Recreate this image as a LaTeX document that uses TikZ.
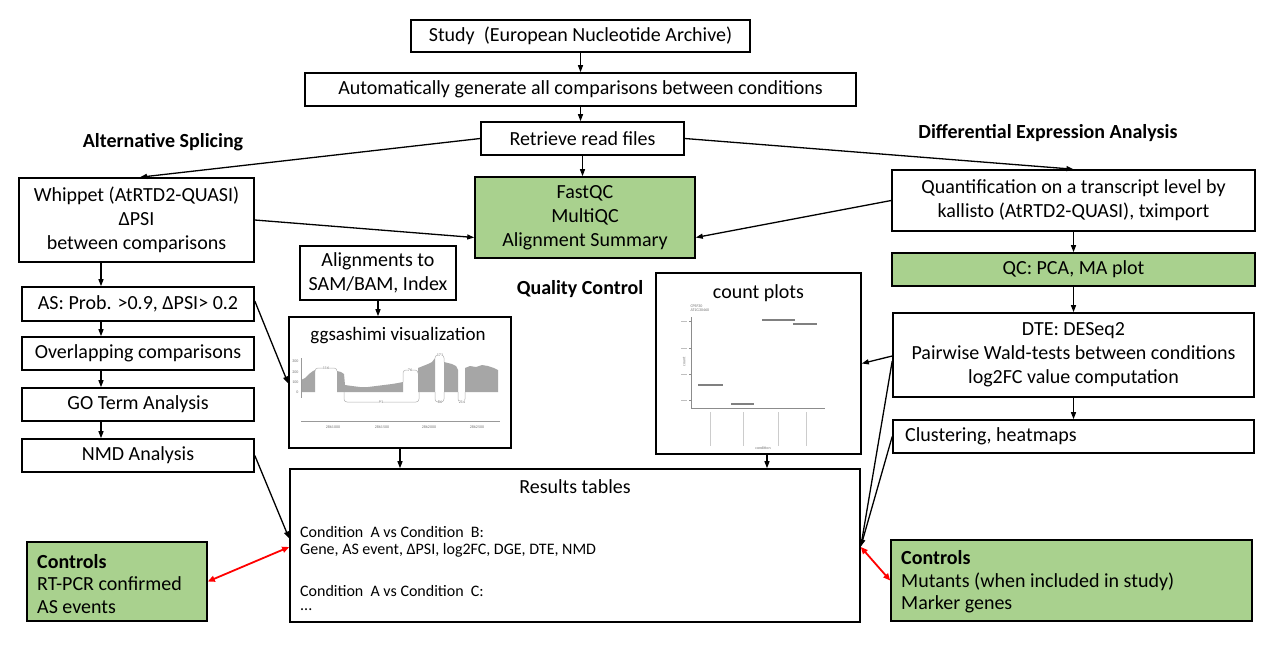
\documentclass[tikz,border=0pt]{standalone}
\usepackage{fontspec}
\setmainfont{Carlito}
\usetikzlibrary{arrows.meta}
\definecolor{boxgreen}{RGB}{169,209,142}
\newcommand{\mainfs}{\fontsize{20}{24}\selectfont}
\newcommand{\ctrlfs}{\fontsize{20}{22.5}\selectfont}
\newcommand{\resfs}{\fontsize{16}{19}\selectfont}
\newcommand{\sashfs}{\fontsize{19}{22}\selectfont}
\newcommand{\tinyfs}{\fontsize{4}{4.5}\selectfont}
\begin{document}
\begin{tikzpicture}[x=1pt,y=-1pt,
 box/.style={draw, line width=1.6pt, inner sep=0pt, align=center, font=\mainfs},
 gbox/.style={box, fill=boxgreen},
 arr/.style={-{Triangle[length=7pt,width=5pt]}, line width=1.3pt},
 redarr/.style={{Triangle[length=7pt,width=6pt]}-{Triangle[length=7pt,width=6pt]}, line width=1.8pt, red},
 lab/.style={font=\bfseries\mainfs},
 txt/.style={font=\mainfs, inner sep=0pt},
 rtxt/.style={font=\resfs, inner sep=0pt, anchor=west},
 tiny/.style={font=\tinyfs, text=black!55, inner sep=0.3pt},
 arcl/.style={draw=black!30, line width=0.5pt, rounded corners=3pt},
 plotfill/.style={fill=black!35},
]
\useasboundingbox (0,0) rectangle (1280,662);
\fill[white] (0,0) rectangle (1280,662);

% ---- top chain ----
\node[box, minimum width=339, minimum height=32] (study) at (580.5,36) {Study\ \ (European Nucleotide Archive)};
\node[box, minimum width=551, minimum height=33] (auto) at (580.5,89.5) {Automatically generate all comparisons between conditions};
\node[box, minimum width=203, minimum height=33] (retr) at (582.5,138.5) {Retrieve read files};
\node[gbox, minimum width=220, minimum height=81] (fastqc) at (585,217.5) {FastQC\\MultiQC\\Alignment Summary};

% ---- section labels ----
\node[lab] (lAS) at (163,142) {Alternative Splicing};
\node[lab] (lDE) at (1048,133) {Differential Expression Analysis};
\node[lab] (lQC) at (580,289) {Quality Control};

% ---- left column ----
\node[box, minimum width=235, minimum height=84] (whip) at (136.5,220) {Whippet (AtRTD2-QUASI)\\ΔPSI\\between comparisons};
\node[box, minimum width=232, minimum height=34] (as) at (138,304) {AS: Prob. >0.9, ΔPSI> 0.2};
\node[box, minimum width=232, minimum height=33] (ovl) at (138,353.5) {Overlapping comparisons};
\node[box, minimum width=232, minimum height=33] (go) at (138,404.5) {GO Term Analysis};
\node[box, minimum width=232, minimum height=33] (nmd) at (138,455.5) {NMD Analysis};
\node[gbox, minimum width=180, minimum height=79] (ctrlL) at (117,581.5) {};
\node[font=\ctrlfs, align=left, anchor=west, inner sep=0pt] (ctrlLt) at (37,584) {\textbf{Controls}\\RT-PCR confirmed\\AS events};

% ---- right column ----
\node[box, minimum width=363, minimum height=61] (quant) at (1073.5,200.5) {Quantification on a transcript level by\\kallisto (AtRTD2-QUASI), tximport};
\node[gbox, minimum width=363, minimum height=33] (qc) at (1073.5,269.5) {QC: PCA, MA plot};
\node[box, minimum width=361, minimum height=84] (dte) at (1073.5,355) {DTE: DESeq2\\Pairwise Wald-tests between conditions\\log2FC value computation};
\node[box, minimum width=361, minimum height=33] (clus) at (1073.5,436.5) {};
\node[txt, anchor=west] (clust) at (905,436.5) {Clustering, heatmaps};
\node[gbox, minimum width=361, minimum height=81] (ctrlR) at (1071.5,580.5) {};
\node[font=\ctrlfs, align=left, anchor=west, inner sep=0pt] (ctrlRt) at (901,582) {\textbf{Controls}\\Mutants (when included in study)\\Marker genes};

% ---- middle ----
\node[box, minimum width=156, minimum height=54] (align) at (378,273) {Alignments to\\SAM/BAM, Index};
\node[box, minimum width=222, minimum height=131] (sash) at (400,382.5) {};
\node[font=\sashfs, inner sep=0pt] (sasht) at (398,336) {ggsashimi visualization};
\node[box, minimum width=205, minimum height=181] (count) at (758.5,363.5) {};
\node[txt] (countt) at (758.5,293) {count plots};
\node[box, minimum width=570, minimum height=153] (res) at (575,545.5) {};
\node[txt] (rest) at (575,487) {Results tables};
\node[rtxt] (r1) at (300,532) {Condition\ \ A vs Condition\ \ B:};
\node[rtxt] (r2) at (300,550) {Gene, AS event, ΔPSI, log2FC, DGE, DTE, NMD};
\node[rtxt] (r3) at (300,591) {Condition\ \ A vs Condition\ \ C:};
\node[rtxt] (r4) at (300,610) {...};

% ---- sashimi plot ----
\fill[plotfill] (301,392) -- (301,380) -- (305,378) -- (309,374) -- (313,371) -- (315,370) -- (315,392) -- cycle;
\fill[plotfill] (337,392) -- (337,371) -- (341,372) -- (344,374) -- (345,385) -- (352,386) -- (360,387) -- (368,387) -- (376,386) -- (384,385) -- (392,384) -- (398,383) -- (403,382) -- (403,392) -- cycle;
\fill[plotfill] (418,392) -- (418,368) -- (423,366) -- (428,364) -- (432,362) -- (435,358) -- (435,392) -- cycle;
\fill[plotfill] (444,392) -- (444,362) -- (448,363) -- (452,364) -- (456,366) -- (458,370) -- (458,392) -- cycle;
\fill[plotfill] (465,392) -- (465,368) -- (470,366) -- (476,367) -- (482,365) -- (488,366) -- (494,368) -- (498,370) -- (498,392) -- cycle;
\draw[arcl] (315,370) -- (315,368) -- (337,368) -- (337,371);
\draw[arcl] (344,392) -- (344,402) -- (419,402) -- (419,392);
\draw[arcl] (403,382) -- (403,370) -- (418,370) -- (418,372);
\draw[arcl] (435,358) -- (435,355) -- (444,355) -- (444,362);
\draw[arcl] (435,392) -- (435,402) -- (444,402) -- (444,392);
\draw[arcl] (458,392) -- (458,402) -- (465,402) -- (465,392);
\node[tiny, fill=white] (s1) at (326,368) {116};
\node[tiny, fill=white] (s2) at (381,402) {91};
\node[tiny, fill=white] (s3) at (410,370) {76};
\node[tiny, fill=white] (s4) at (440,355) {171};
\node[tiny, fill=white] (s5) at (440,402) {86};
\node[tiny, fill=white] (s6) at (462,402) {214};
\draw[black!40, line width=0.4pt] (301,358) -- (301,398);
\node[tiny, anchor=east] (y3) at (299,361) {300};
\node[tiny, anchor=east] (y2) at (299,372) {200};
\node[tiny, anchor=east] (y1) at (299,382) {100};
\node[tiny, anchor=east] (y0) at (299,392) {0};
\draw[black!40, line width=0.6pt] (301,421) -- (500,421);
\node[tiny] (x1) at (333,427) {2861000};
\node[tiny] (x2) at (382,427) {2861500};
\node[tiny] (x3) at (429,427) {2862000};
\node[tiny] (x4) at (477,427) {2862500};

% ---- count plot ----
\node[tiny, anchor=west, align=left] (cp) at (690,308) {CPSF30\\AT1G30460};
\draw[black!45, line width=0.5pt] (691,317) -- (691,408) -- (825,408);
\foreach \yy in {321,348,374,400} {\draw[black!45, line width=0.4pt] (689,\yy) -- (691,\yy); \draw[black!25, line width=1pt] (681,\yy) -- (687,\yy);}
\draw[black!50, line width=1.1pt] (698,385) -- (723,385);
\draw[black!50, line width=1.1pt] (731,404) -- (754,404);
\draw[black!50, line width=1.1pt] (762,320) -- (795,320);
\draw[black!50, line width=1.1pt] (793,324) -- (817,324);
\foreach \xx in {710,743,778,806} {\draw[black!20, line width=1pt] (\xx,412) -- (\xx,446);}
\node[tiny, rotate=90] (cy) at (684,362) {count};
\node[tiny] (cx) at (763,448) {condition};

% ---- helper coordinates ----
\coordinate (lx) at (101,0);
\coordinate (kx) at (767,0);

% ---- connectors ----
\draw[arr] (study.south) -- (auto.north);
\draw[arr] (auto.south) -- (auto.south |- retr.north);
\draw[arr] (retr.south) -- (retr.south |- fastqc.north);
\draw[arr] (retr.west) -- ([xshift=3.5pt]whip.north);
\draw[arr] (retr.east) -- (quant.north);
\draw[arr] (whip.east) -- ([yshift=-20pt]fastqc.west);
\draw[arr] (quant.west) -- ([yshift=-20pt]fastqc.east);
\draw[arr] (whip.south -| lx) -- (as.north -| lx);
\draw[arr] (as.south -| lx) -- (ovl.north -| lx);
\draw[arr] (ovl.south -| lx) -- (go.north -| lx);
\draw[arr] (go.south -| lx) -- (nmd.north -| lx);
\draw[arr] ([yshift=3pt]as.east) -- ([yshift=-1pt]sash.west);
\draw[arr] (nmd.east) -- ([yshift=7pt]res.west);
\draw[arr] (align.south) -- (align.south |- sash.north);
\draw[arr] (sash.south) -- (sash.south |- res.north);
\draw[arr] (count.south -| kx) -- (res.north -| kx);
\draw[arr] (quant.south) -- (qc.north);
\draw[arr] (qc.south) -- (dte.north);
\draw[arr] (dte.south) -- (clus.north);
\draw[arr] ([yshift=-1pt]dte.west) -- (count.east);
\draw[arr] ([yshift=-6pt]dte.west) -- ([yshift=-1pt]res.east);
\draw[arr] (clus.west) -- ([yshift=-1pt]res.east);
\draw[redarr] (ctrlL.east) -- ([yshift=-1.5pt]res.west);
\draw[redarr] (ctrlR.west) -- ([yshift=-1.5pt]res.east);
\end{tikzpicture}
\end{document}
